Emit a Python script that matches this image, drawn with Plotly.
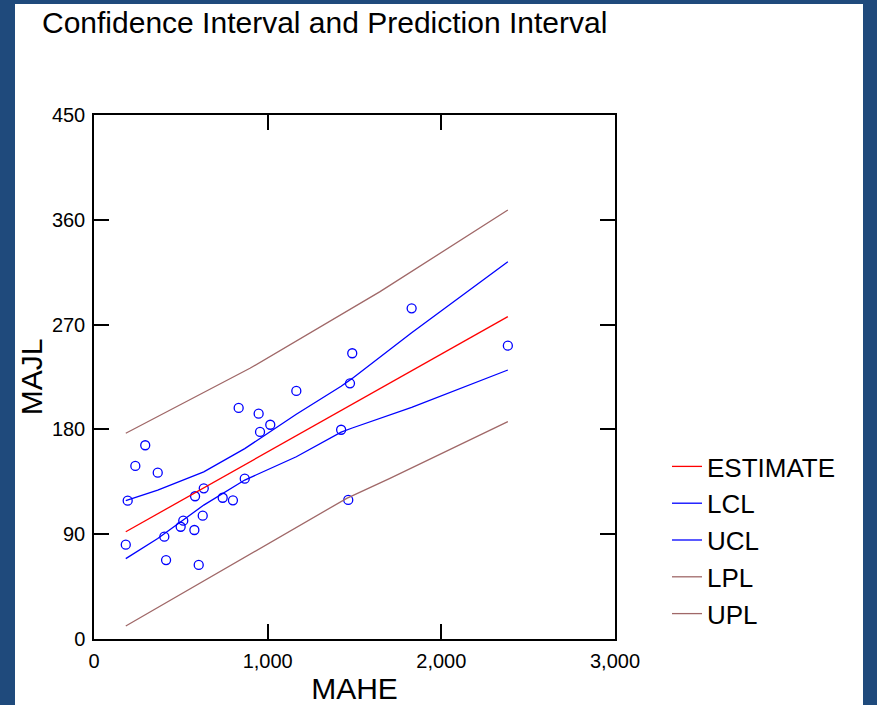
import plotly.graph_objects as go

# Observed data (MAHE vs MAJL)
mahe = [183, 194, 238, 295, 367, 405, 415, 499, 514, 578, 582, 603, 626, 632,
        741, 800, 833, 868, 948, 956, 1015, 1165, 1423, 1464, 1474, 1487, 1829, 2383]
majl = [81, 118.8, 148.6, 166.4, 142.8, 87.9, 67.8, 96.4, 101.6, 93.6, 122.6, 63.6, 105.9, 129.4,
        121.3, 119.1, 198.4, 137.7, 193.5, 177.8, 184, 213, 179.7, 119.4, 219.6, 245.4, 284, 251.9]

# Fitted line and intervals
est_x = [183, 2383]
est_y = [92.1, 276.8]

ci_x = [183, 367, 632, 868, 1165, 1423, 1487, 1829, 2383]
ucl_y = [118.8, 127.8, 143.5, 163.5, 193.0, 217.0, 223.8, 263.0, 324.0]
lcl_y = [69.0, 86.3, 115.0, 136.5, 156.5, 177.7, 181.2, 199.0, 231.0]

upl_x = [183, 898, 1647, 2383]
upl_y = [176.7, 232.5, 298.3, 368.4]

lpl_x = [183, 1455, 1704, 2383]
lpl_y = [11.2, 120.8, 138.0, 186.6]

x_ticks = [0, 1000, 2000, 3000]
y_ticks = [0, 90, 180, 270, 360, 450]

BLUE_BG = "#1F4A7C"
BROWN = "#A06868"
FONT = "Liberation Sans, Arial"

fig = go.Figure()

fig.add_trace(go.Scatter(x=mahe, y=majl, mode="markers", showlegend=False,
                         marker=dict(symbol="circle-open", size=9, color="#0000FF",
                                     line=dict(width=1.3, color="#0000FF"))))

lines = [
    ("ESTIMATE", est_x, est_y, "#FF0000"),
    ("LCL", ci_x, lcl_y, "#0000FF"),
    ("UCL", ci_x, ucl_y, "#0000FF"),
    ("LPL", lpl_x, lpl_y, BROWN),
    ("UPL", upl_x, upl_y, BROWN),
]
for name, xs, ys, col in lines:
    fig.add_trace(go.Scatter(x=xs, y=ys, mode="lines", name=name,
                             line=dict(color=col, width=1.3)))

axis_common = dict(showline=True, linecolor="black", linewidth=1.5, mirror="allticks",
                   ticks="inside", ticklen=15, tickwidth=1.5, tickcolor="black",
                   showgrid=False, zeroline=False,
                   tickfont=dict(family=FONT, size=20, color="black"))

fig.update_layout(
    width=877, height=705,
    margin=dict(l=94, r=262, t=115, b=66),
    paper_bgcolor=BLUE_BG, plot_bgcolor="white",
    title=dict(text="Confidence Interval and Prediction Interval",
               font=dict(family=FONT, size=30, color="black"),
               x=42/877, xanchor="left", xref="container",
               y=1-22/705, yanchor="middle", yref="container"),
    xaxis=dict(range=[0, 3000], tickvals=x_ticks, tickformat=",d",
               title=dict(text="MAHE", font=dict(family=FONT, size=30, color="black"),
                          standoff=14),
               ticklabelstandoff=3, automargin=False, **axis_common),
    yaxis=dict(range=[0, 450], tickvals=y_ticks,
               title=dict(text="MAJL", font=dict(family=FONT, size=30, color="black"),
                          standoff=0),
               ticklabelstandoff=3, automargin=False, **axis_common),
    legend=dict(x=(667-94)/521, xanchor="left", y=(639-443)/524, yanchor="top",
                bgcolor="rgba(0,0,0,0)", font=dict(family=FONT, size=26, color="black"),
                traceorder="normal"),
    shapes=[dict(type="rect", xref="paper", yref="paper",
                 x0=(15-94)/521, x1=(863-94)/521, y0=-0.3, y1=(639-4)/524,
                 fillcolor="white", line=dict(width=0), layer="below")],
)

fig.write_html("out.html", config={"displayModeBar": False},
               post_script="document.body.style.margin='0';")
